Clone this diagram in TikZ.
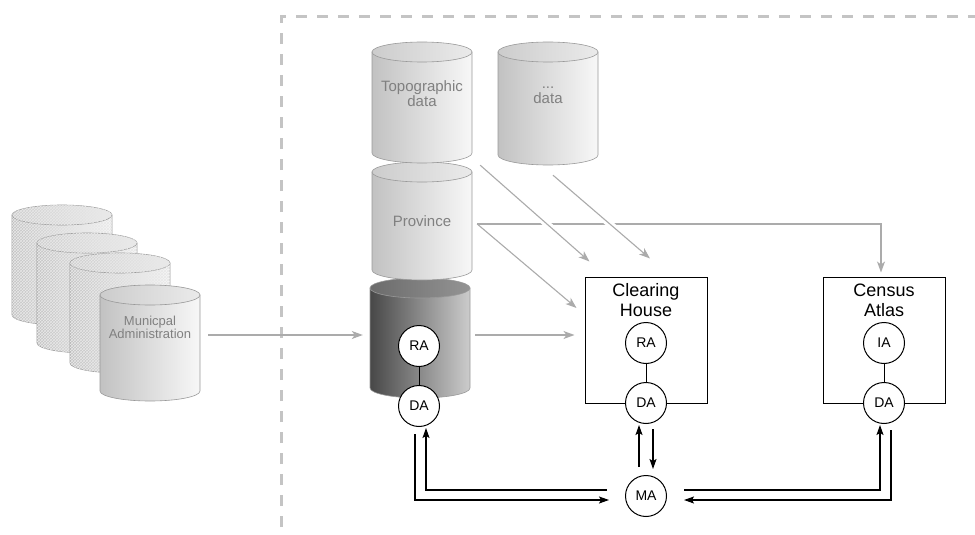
\documentclass[tikz,border=0pt]{standalone}
\usepackage{fontspec}
\setmainfont{Liberation Sans}
\usetikzlibrary{arrows.meta, positioning, patterns}

\tikzstyle{agent} = [circle, draw=black, line width=1pt, fill=white, minimum size=41pt, inner sep=0pt, font=\fontsize{14}{16}\selectfont]
\tikzstyle{station} = [rectangle, draw=black, line width=1pt, minimum width=122pt, minimum height=126pt]
\tikzstyle{title} = [align=center, font=\fontsize{18}{20}\selectfont]
\tikzstyle{feed} = [line width=1.1pt, draw=black!33, -{Stealth[length=11pt,width=8pt,inset=3pt]}]
\tikzstyle{hop} = [preaction={draw=white, line width=7pt, arrows=-, shorten >=12pt, shorten <=4pt}]
\tikzstyle{link} = [line width=1.3pt, -{Stealth[length=10pt,width=7pt,inset=2pt]}]
\tikzstyle{border} = [draw=black!23, line width=3pt, dash pattern=on 11pt off 10pt]
\tikzstyle{drumedge} = [draw=black!40, line width=0.6pt]
\tikzstyle{litebody} = [left color=black!24, right color=black!3]
\tikzstyle{litelid} = [left color=black!20, right color=black!8]
\tikzstyle{darkbody} = [left color=black!72, right color=black!20]
\tikzstyle{darklid} = [left color=black!58, right color=black!42]
\tikzstyle{mesh} = [postaction={pattern=crosshatch, pattern color=black!9}]
\tikzstyle{drumtext} = [text=black!50, align=center, font=\fontsize{15}{15}\selectfont]

% database drum: name, x, top, bottom, body style, lid style
\newcommand{\drum}[6]{%
  \shadedraw[drumedge, #5] (#2-50,#3) -- (#2-50,#4)
    arc[start angle=180, end angle=0, x radius=50, y radius=10] -- (#2+50,#3) -- cycle;
  \shadedraw[drumedge, #6] (#2,#3) ellipse [x radius=50, y radius=10];
  \node[minimum width=100pt, minimum height={#4-#3}, inner sep=0pt] (#1) at (#2,{(#3+#4)/2}) {};
}

\begin{document}
\begin{tikzpicture}[x=1pt, y=-1pt]
	\useasboundingbox (0,0) rectangle (975,535);

	\draw [border] (281,527) -- (281,17) -- (975,17);

	% municipal stack
	\drum{muni1}{62}{215}{315}{litebody, mesh}{litelid, mesh}
	\drum{muni2}{87}{243}{343}{litebody, mesh}{litelid, mesh}
	\drum{muni3}{120}{263}{363}{litebody, mesh}{litelid, mesh}
	\drum{muni4}{150}{295}{391}{litebody}{litelid}
	\node [drumtext, font=\fontsize{13}{12}\selectfont] at (150,327) {Municpal\\Administration};

	% provincial stores
	\drum{dark}{420}{288}{388}{darkbody}{darklid}
	\drum{prov}{422}{172}{270}{litebody}{litelid}
	\drum{topo}{422}{52}{153}{litebody}{litelid}
	\drum{more}{548}{52}{155}{litebody}{litelid}
	\node [drumtext] at (422,94) {Topographic\\data};
	\node [drumtext] at (548,95) {...\\data};
	\node [drumtext] at (422,221) {Province};

	\node (chbox) [station] at (646,340) {};
	\node (cabox) [station] at (884,340) {};
	\node (chname) [title] at (646,300) {Clearing\\House};
	\node (caname) [title] at (884,300) {Census\\Atlas};

	% data feeds
	\draw [feed] ([xshift=8pt,yshift=8pt]muni4.east) -- ([xshift=-7pt,yshift=3pt]dark.west);
	\draw [feed] ([xshift=5pt,yshift=3pt]dark.east) -- ([xshift=-10pt,yshift=5pt]chbox.west);
	\draw [feed] ([xshift=5pt,yshift=-3pt]prov.east) -| ([xshift=-3pt,yshift=4pt]cabox.north);
	\draw [feed] ([xshift=5pt,yshift=-3pt]prov.east) -- ([xshift=-8pt,yshift=32pt]chbox.west);
	\draw [feed, hop] ([xshift=8pt,yshift=-12pt]topo.south east) -- ([xshift=5pt,yshift=15pt]chbox.north west);
	\draw [feed, hop] ([xshift=5pt,yshift=-20pt]more.south) -- ([xshift=4pt,yshift=18pt]chbox.north);

	% agents
	\node (da1) [agent] at (419,406) {DA};
	\node (ra1) [agent, above=18pt of da1] {RA};
	\node (da2) [agent] at (646,403) {DA};
	\node (ra2) [agent, above=18pt of da2] {RA};
	\node (da3) [agent] at (884,403) {DA};
	\node (ia) [agent, above=18pt of da3] {IA};
	\node (ma) [agent] at (646,496) {MA};

	\draw [line width=1pt] (ra1) -- (da1);
	\draw [line width=1pt] (ra2) -- (da2);
	\draw [line width=1pt] (ia) -- (da3);

	\draw [link] ([xshift=-4pt,yshift=-7pt]da1.south) |- ([xshift=-16pt,yshift=-4pt]ma.west);
	\draw [link] ([xshift=-18pt,yshift=6pt]ma.west) -| ([xshift=7pt,yshift=-1pt]da1.south);
	\draw [link] ([xshift=-7pt,yshift=8pt]ma.north) -- ([xshift=-7pt,yshift=-1pt]da2.south);
	\draw [link] ([xshift=7pt,yshift=-5pt]da2.south) -- ([xshift=7pt,yshift=6pt]ma.north);
	\draw [link] ([xshift=17pt,yshift=6pt]ma.east) -| ([xshift=-4pt,yshift=-1pt]da3.south);
	\draw [link] ([xshift=7pt,yshift=-6pt]da3.south) |- ([xshift=17pt,yshift=-4pt]ma.east);
\end{tikzpicture}
\end{document}
